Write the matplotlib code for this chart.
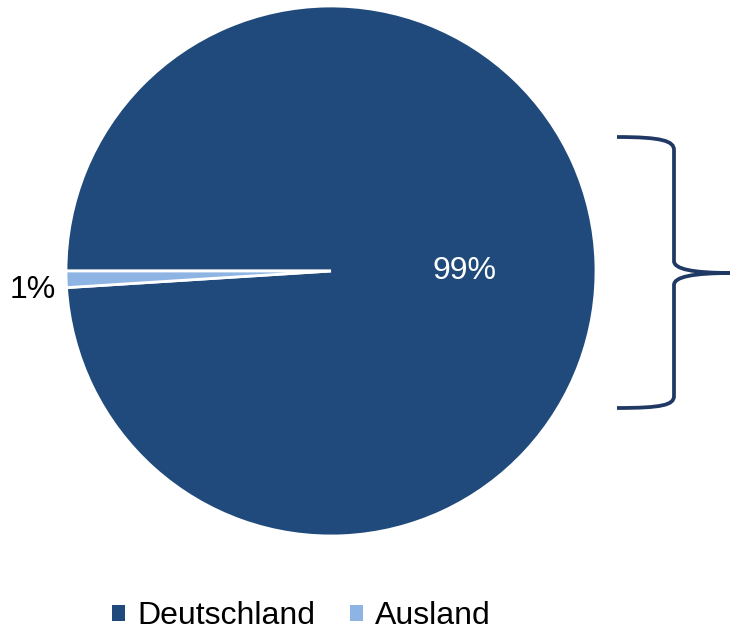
import matplotlib.pyplot as plt
from matplotlib.patches import Patch, PathPatch
from matplotlib.path import Path

plt.rcParams["font.family"] = ["Liberation Sans", "DejaVu Sans"]

# Daten
categories = ["Deutschland", "Ausland"]
shares = [99, 1]
colors = ["#204A7B", "#8EB4E3"]

W, H = 730, 634
CX, CY, R = 331, H - 271, 265


def pix(x, y):
    # Pixelkoordinaten (oben links) -> Achsenkoordinaten
    return (x, H - y)


fig = plt.figure(figsize=(W / 100, H / 100), dpi=100)
ax = fig.add_axes([0, 0, 1, 1])

wedges, texts, autotexts = ax.pie(
    shares,
    colors=colors,
    startangle=180 + 3.6 * shares[1],
    counterclock=True,
    center=(CX, CY),
    radius=R,
    autopct="%1.0f%%",
    pctdistance=0.5,
    wedgeprops=dict(edgecolor="white", linewidth=2),
    textprops=dict(fontsize=23),
)
autotexts[0].set_color("white")
autotexts[0].set_position(pix(464, 271))
autotexts[1].set_color("black")
autotexts[1].set_position(pix(33, 290))

# Geschweifte Klammer rechts
verts = [
    pix(617, 137), pix(662, 137), pix(674, 141), pix(674, 150),
    pix(674, 261), pix(674, 269), pix(692, 273), pix(732, 273),
    pix(692, 273), pix(674, 277), pix(674, 285),
    pix(674, 396), pix(674, 405), pix(662, 408), pix(617, 408),
]
codes = [
    Path.MOVETO, Path.CURVE4, Path.CURVE4, Path.CURVE4,
    Path.LINETO, Path.CURVE4, Path.CURVE4, Path.CURVE4,
    Path.CURVE4, Path.CURVE4, Path.CURVE4,
    Path.LINETO, Path.CURVE4, Path.CURVE4, Path.CURVE4,
]
ax.add_patch(PathPatch(Path(verts, codes), facecolor="none",
                       edgecolor="#1F3864", linewidth=2.7,
                       capstyle="butt", joinstyle="round"))

ax.set_xlim(0, W)
ax.set_ylim(0, H)
ax.set_aspect("equal")
ax.axis("off")

handles = [Patch(facecolor=c, edgecolor="none") for c in colors]
fig.legend(
    handles, categories,
    loc="center", bbox_to_anchor=(0.413, 1 - 616 / H),
    ncol=2, frameon=False, fontsize=23,
    handlelength=0.4, handleheight=0.4, handletextpad=0.38,
    columnspacing=1.1, borderaxespad=0, borderpad=0,
)

fig.savefig("out.png", dpi=100)
